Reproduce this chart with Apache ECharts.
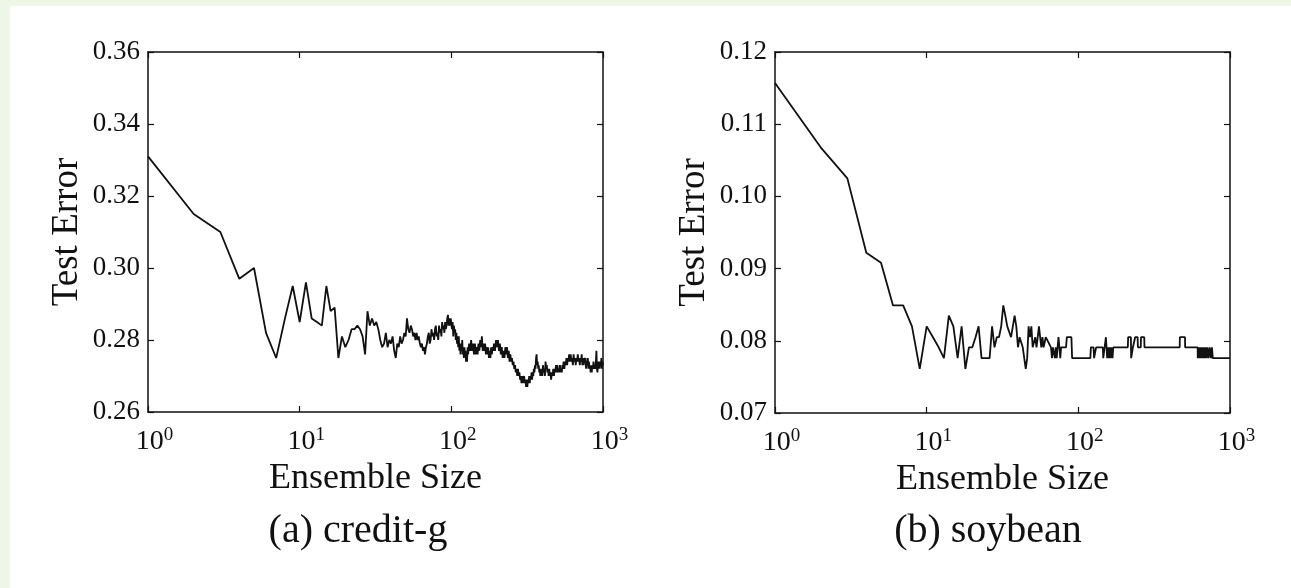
<!DOCTYPE html>
<html>
<head>
<meta charset="utf-8">
<script src="https://cdn.jsdelivr.net/npm/echarts@6/dist/echarts.min.js"></script>
<style>
  html, body { margin: 0; padding: 0; background: #edf6e7; }
  #paper { position: absolute; left: 10px; top: 6px; width: 1281px; height: 582px; background: #fff; }
  #chart { position: absolute; left: 0; top: 0; width: 1291px; height: 588px; }
</style>
</head>
<body>
<div id="paper"></div>
<div id="chart"></div>
<script>
// (a) credit-g : [ensemble size, test error]
let creditData = [
    [1, 0.331], [2, 0.315], [3, 0.310], [4, 0.297], [5, 0.300], [6, 0.282], [7, 0.275], [8, 0.286],
    [9, 0.295], [10, 0.285], [11, 0.296], [12, 0.286], [13, 0.285], [14, 0.284], [15, 0.295], [16, 0.288],
    [17, 0.289], [18, 0.275], [19, 0.281], [20, 0.278], [21, 0.280], [22, 0.283], [23, 0.283], [24, 0.284],
    [25, 0.283], [26, 0.281], [27, 0.276], [28, 0.288], [29, 0.284], [30, 0.286], [31, 0.284], [32, 0.285],
    [33, 0.283], [34, 0.280], [35, 0.278], [36, 0.279], [37, 0.282], [38, 0.278], [39, 0.280], [40, 0.279],
    [41, 0.281], [42, 0.277], [43, 0.275], [44, 0.279], [45, 0.278], [46, 0.281], [47, 0.279], [48, 0.280],
    [49, 0.282], [50, 0.281], [51, 0.286], [52, 0.283], [53, 0.282], [54, 0.284], [55, 0.283], [56, 0.281],
    [57, 0.282], [58, 0.280], [59, 0.282], [60, 0.280], [61, 0.281], [62, 0.279], [63, 0.278], [64, 0.279],
    [65, 0.277], [66, 0.278], [67, 0.276], [68, 0.278], [69, 0.279], [70, 0.281], [71, 0.282], [72, 0.279],
    [73, 0.280], [74, 0.283], [75, 0.281], [76, 0.282], [77, 0.280], [78, 0.283], [79, 0.284], [80, 0.281],
    [81, 0.282], [82, 0.280], [83, 0.284], [84, 0.282], [85, 0.283], [86, 0.281], [87, 0.285], [88, 0.283],
    [89, 0.284], [90, 0.282], [91, 0.285], [92, 0.283], [93, 0.284], [94, 0.286], [95, 0.287], [96, 0.284],
    [97, 0.286], [98, 0.284], [99, 0.286], [100, 0.286], [101, 0.283], [102, 0.285], [103, 0.281], [104, 0.284],
    [105, 0.282], [106, 0.283], [107, 0.280], [108, 0.282], [109, 0.279], [110, 0.281], [111, 0.278], [112, 0.281],
    [113, 0.277], [114, 0.279], [115, 0.276], [116, 0.279], [117, 0.277], [118, 0.280], [119, 0.276], [120, 0.278],
    [121, 0.275], [122, 0.278], [123, 0.276], [124, 0.277], [125, 0.274], [126, 0.276], [127, 0.274], [128, 0.278],
    [129, 0.276], [131, 0.279], [133, 0.277], [135, 0.280], [137, 0.277], [139, 0.279], [141, 0.276], [143, 0.279],
    [145, 0.276], [147, 0.278], [149, 0.276], [151, 0.279], [153, 0.277], [155, 0.280], [157, 0.278], [159, 0.281],
    [161, 0.277], [163, 0.279], [165, 0.277], [167, 0.279], [169, 0.276], [171, 0.278], [173, 0.276], [175, 0.278],
    [177, 0.275], [179, 0.277], [181, 0.275], [183, 0.278], [185, 0.276], [187, 0.278], [189, 0.277], [191, 0.279],
    [194, 0.277], [197, 0.280], [200, 0.278], [203, 0.280], [206, 0.277], [209, 0.279], [212, 0.276], [215, 0.278],
    [218, 0.275], [221, 0.277], [224, 0.275], [227, 0.278], [230, 0.276], [233, 0.278], [236, 0.275], [239, 0.277],
    [242, 0.274], [245, 0.276], [248, 0.274], [251, 0.275], [254, 0.273], [257, 0.274], [260, 0.272], [263, 0.273],
    [266, 0.271], [269, 0.272], [272, 0.270], [275, 0.272], [278, 0.270], [281, 0.271], [284, 0.269], [287, 0.270],
    [290, 0.268], [293, 0.270], [296, 0.268], [299, 0.269], [302, 0.270], [305, 0.268], [308, 0.269], [311, 0.267],
    [314, 0.269], [317, 0.267], [320, 0.269], [323, 0.268], [326, 0.270], [329, 0.268], [332, 0.270], [335, 0.269],
    [338, 0.271], [341, 0.269], [344, 0.271], [347, 0.270], [350, 0.272], [353, 0.271], [356, 0.273], [359, 0.272],
    [362, 0.275], [365, 0.276], [368, 0.273], [371, 0.274], [374, 0.272], [377, 0.273], [380, 0.271], [383, 0.272],
    [386, 0.270], [389, 0.272], [392, 0.270], [395, 0.271], [398, 0.270], [402, 0.273], [406, 0.271], [410, 0.272],
    [414, 0.270], [418, 0.274], [422, 0.272], [426, 0.273], [430, 0.271], [434, 0.272], [438, 0.270], [442, 0.272],
    [446, 0.270], [450, 0.271], [455, 0.269], [460, 0.271], [465, 0.270], [470, 0.272], [475, 0.270], [480, 0.272],
    [485, 0.271], [490, 0.273], [495, 0.271], [500, 0.273], [505, 0.271], [510, 0.272], [515, 0.271], [520, 0.273],
    [525, 0.271], [530, 0.272], [535, 0.271], [540, 0.273], [545, 0.272], [550, 0.274], [556, 0.272], [562, 0.274],
    [568, 0.273], [574, 0.275], [580, 0.273], [586, 0.275], [592, 0.274], [598, 0.276], [605, 0.274], [612, 0.276],
    [619, 0.274], [626, 0.275], [633, 0.273], [640, 0.276], [647, 0.274], [654, 0.275], [661, 0.273], [668, 0.275],
    [675, 0.274], [682, 0.276], [689, 0.274], [696, 0.275], [703, 0.273], [710, 0.275], [717, 0.274], [724, 0.276],
    [731, 0.273], [738, 0.275], [745, 0.273], [752, 0.275], [759, 0.274], [766, 0.275], [773, 0.272], [780, 0.274],
    [787, 0.273], [794, 0.275], [801, 0.272], [808, 0.274], [815, 0.272], [822, 0.273], [829, 0.271], [836, 0.273],
    [843, 0.271], [850, 0.273], [858, 0.272], [866, 0.274], [874, 0.272], [882, 0.273], [890, 0.272], [898, 0.274],
    [905, 0.277], [912, 0.272], [920, 0.271], [928, 0.274], [936, 0.272], [944, 0.274], [952, 0.272], [960, 0.274],
    [968, 0.273], [976, 0.275], [984, 0.272], [992, 0.274], [1000, 0.273]
];

// (b) soybean : [ensemble size, test error]
let soybeanData = [
    [1, 0.1157], [2, 0.1068], [3, 0.1025], [4, 0.0922], [5, 0.0908], [6, 0.0849], [7, 0.0849], [8, 0.0820],
    [9, 0.0761], [10, 0.0820], [11, 0.0805], [12, 0.0791], [13, 0.0776], [14, 0.0835], [15, 0.0820], [16, 0.0776],
    [17, 0.0820], [18, 0.0761], [19, 0.0791], [20, 0.0791], [21, 0.0805], [22, 0.0820], [23, 0.0776], [24, 0.0776],
    [25, 0.0776], [26, 0.0776], [27, 0.0820], [28, 0.0791], [29, 0.0805], [30, 0.0805], [31, 0.0820], [32, 0.0849],
    [33, 0.0835], [34, 0.0820], [35, 0.0820], [36, 0.0805], [37, 0.0820], [38, 0.0835], [39, 0.0820], [40, 0.0791],
    [41, 0.0805], [42, 0.0805], [43, 0.0791], [44, 0.0791], [45, 0.0761], [46, 0.0776], [47, 0.0820], [48, 0.0805],
    [49, 0.0820], [50, 0.0791], [51, 0.0791], [52, 0.0805], [53, 0.0791], [54, 0.0805], [55, 0.0820], [56, 0.0805],
    [57, 0.0791], [58, 0.0805], [59, 0.0791], [60, 0.0791], [61, 0.0805], [66, 0.0791], [67, 0.0776], [68, 0.0791],
    [69, 0.0791], [70, 0.0776], [71, 0.0791], [72, 0.0776], [73, 0.0791], [74, 0.0805], [75, 0.0791], [76, 0.0776],
    [77, 0.0791], [83, 0.0791], [84, 0.0805], [90, 0.0805], [91, 0.0776], [120, 0.0776], [121, 0.0791], [126, 0.0791],
    [127, 0.0776], [130, 0.0776], [131, 0.0791], [145, 0.0791], [146, 0.0776], [148, 0.0776], [149, 0.0791], [151, 0.0791],
    [152, 0.0805], [154, 0.0805], [155, 0.0776], [157, 0.0791], [159, 0.0776], [161, 0.0791], [163, 0.0776], [165, 0.0791],
    [168, 0.0776], [170, 0.0791], [212, 0.0791], [213, 0.0805], [222, 0.0805], [223, 0.0776], [228, 0.0776], [229, 0.0791],
    [236, 0.0791], [237, 0.0805], [246, 0.0805], [247, 0.0791], [258, 0.0791], [259, 0.0805], [272, 0.0805], [273, 0.0791],
    [466, 0.0791], [467, 0.0805], [505, 0.0805], [506, 0.0791], [612, 0.0791], [613, 0.0776], [620, 0.0791], [628, 0.0776],
    [636, 0.0791], [645, 0.0776], [655, 0.0791], [662, 0.0776], [670, 0.0791], [680, 0.0776], [690, 0.0791], [700, 0.0776],
    [710, 0.0791], [722, 0.0776], [735, 0.0791], [748, 0.0776], [760, 0.0791], [770, 0.0776], [1000, 0.0776]
];

let xMin = 1;
let xMax = 1000;
let creditTicks = [0.26, 0.36, 0.02];
let soybeanTicks = [0.07, 0.12, 0.01];
let captions = ['(a) credit-g', '(b) soybean'];

const serif = 'Liberation Serif';
const ink = '#111';

function xAxisPair(grid) {
    let base = {
        type: 'log',
        logBase: 10,
        min: xMin,
        max: xMax,
        gridIndex: grid,
        axisLine: { show: true, lineStyle: { color: ink, width: 1.5 } },
        axisTick: { show: true, inside: true, length: 6, lineStyle: { color: ink, width: 1.2 } },
        splitLine: { show: false }
    };
    return [
        Object.assign({}, base, {
            position: 'bottom',
            name: 'Ensemble Size',
            nameLocation: 'middle',
            nameGap: 44,
            nameTextStyle: { fontFamily: serif, fontSize: 36, color: ink, verticalAlign: 'top' },
            axisLabel: {
                margin: 14,
                formatter: function (v) {
                    return '{b|10}{s|' + Math.round(Math.log10(v)) + '}';
                },
                rich: {
                    b: { fontFamily: serif, fontSize: 28, color: ink, padding: [0, 0, 0, 13] },
                    s: { fontFamily: serif, fontSize: 19, color: ink, verticalAlign: 'bottom', padding: [0, 0, 12, 0] }
                }
            }
        }),
        Object.assign({}, base, { position: 'top', axisLabel: { show: false } })
    ];
}

function yAxisPair(grid, t) {
    let base = {
        type: 'value',
        min: t[0],
        max: t[1],
        interval: t[2],
        gridIndex: grid,
        axisLine: { show: true, lineStyle: { color: ink, width: 1.5 } },
        axisTick: { show: true, inside: true, length: 6, lineStyle: { color: ink, width: 1.2 } },
        splitLine: { show: false }
    };
    return [
        Object.assign({}, base, {
            position: 'left',
            name: 'Test Error',
            nameLocation: 'middle',
            nameGap: 62,
            nameTextStyle: { fontFamily: serif, fontSize: 37, color: ink },
            axisLabel: {
                margin: 8,
                fontFamily: serif,
                fontSize: 27,
                color: ink,
                formatter: function (v) { return v.toFixed(2); }
            }
        }),
        Object.assign({}, base, { position: 'right', axisLabel: { show: false } })
    ];
}

let option = {
    animation: false,
    backgroundColor: 'transparent',
    title: [
        { text: captions[0], left: 353, top: 506, textAlign: 'center',
          textStyle: { fontFamily: serif, fontSize: 40, fontWeight: 'normal', color: ink } },
        { text: captions[1], left: 983, top: 506, textAlign: 'center',
          textStyle: { fontFamily: serif, fontSize: 40, fontWeight: 'normal', color: ink } }
    ],
    grid: [
        { left: 148, top: 52, width: 455, height: 360 },
        { left: 775, top: 52, width: 455, height: 361 }
    ],
    xAxis: xAxisPair(0).concat(xAxisPair(1)),
    yAxis: yAxisPair(0, creditTicks).concat(yAxisPair(1, soybeanTicks)),
    series: [
        {
            name: 'credit-g',
            type: 'line',
            xAxisIndex: 0,
            yAxisIndex: 0,
            data: creditData,
            showSymbol: false,
            lineStyle: { color: ink, width: 1.8 }
        },
        {
            name: 'soybean',
            type: 'line',
            xAxisIndex: 2,
            yAxisIndex: 2,
            data: soybeanData,
            showSymbol: false,
            lineStyle: { color: ink, width: 1.8 }
        }
    ]
};

let chart = echarts.init(document.getElementById('chart'));
chart.setOption(option);
</script>
</body>
</html>
